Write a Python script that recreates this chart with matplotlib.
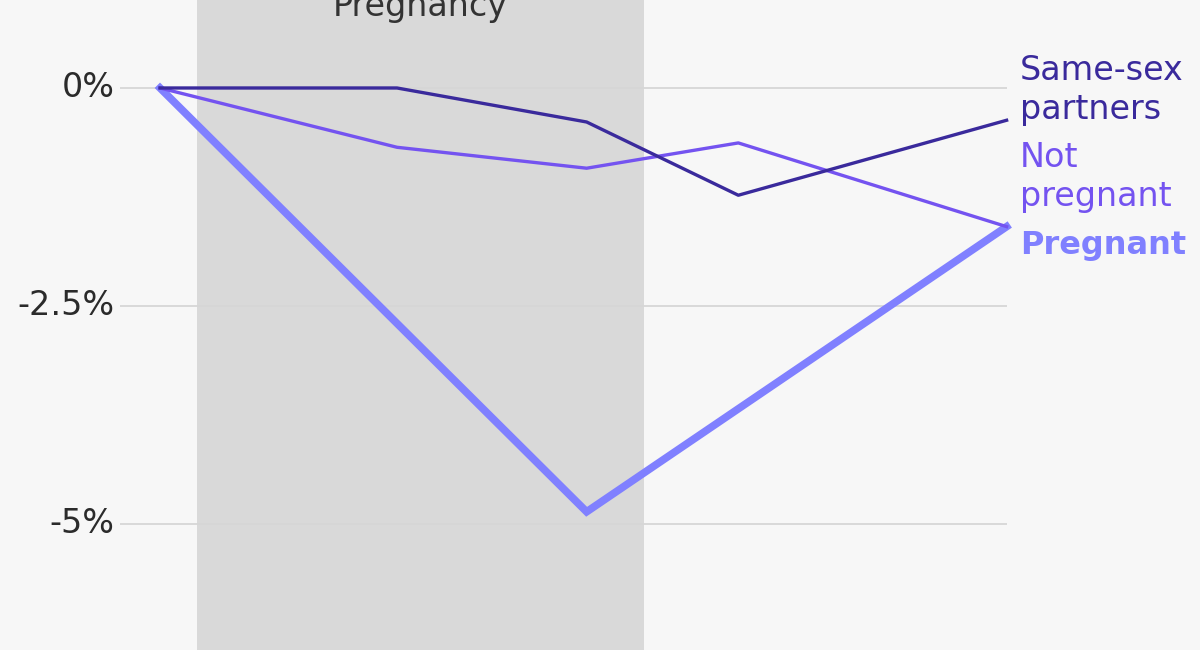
import matplotlib
matplotlib.use("Agg")
import matplotlib.pyplot as plt

# Data
x_points = [0, 2.5, 4.5, 6.1, 8.93]
same_sex = [0.0, 0.0, -0.39, -1.23, -0.37]
not_pregnant = [0.0, -0.68, -0.92, -0.63, -1.59]
pregnant_x = [0, 4.5, 8.93]
pregnant = [0.0, -4.86, -1.59]
y_ticks = [0, -2.5, -5]
y_tick_labels = ["0%", "-2.5%", "-5%"]
pregnancy_span = (0.39, 5.1)
series_labels = ["Same-sex\npartners", "Not\npregnant", "Pregnant"]

c_same = "#3a2a9c"
c_not = "#7453f0"
c_preg = "#8080ff"

plt.rcParams['font.family'] = ['DejaVu Sans']

fig = plt.figure(figsize=(12, 6.5), dpi=100)
fig.patch.set_facecolor("#f7f7f7")
ax = fig.add_axes([0, 0, 1, 1])
ax.set_facecolor("#f7f7f7")
ax.set_xlim(-1.688, 10.97)
ax.set_ylim(-6.445, 1.009)
ax.axis("off")

ax.axvspan(pregnancy_span[0], pregnancy_span[1], color="#d9d9d9", zorder=0, lw=0)
ax.text((pregnancy_span[0] + pregnancy_span[1]) / 2, 0.93, "Pregnancy",
        ha="center", va="center", fontsize=24, color="#333333", zorder=1)

for yt, lab in zip(y_ticks, y_tick_labels):
    ax.hlines(yt, -0.42, 8.93, color="#d6d6d6", lw=1.3, zorder=1)
    ax.text(-0.48, yt, lab, ha="right", va="center", fontsize=24, color="#2b2b2b")

ax.plot(pregnant_x, pregnant, color=c_preg, lw=5.5, solid_joinstyle="miter", zorder=3)
ax.plot(x_points, not_pregnant, color=c_not, lw=2.4, zorder=4)
ax.plot(x_points, same_sex, color=c_same, lw=2.4, zorder=5)

lx = 9.07
ax.text(lx, -0.02, series_labels[0], ha="left", va="center", fontsize=24,
        color=c_same, linespacing=1.22)
ax.text(lx, -1.02, series_labels[1], ha="left", va="center", fontsize=24,
        color=c_not, linespacing=1.22)
ax.text(lx, -1.81, series_labels[2], ha="left", va="center", fontsize=23,
        color=c_preg, fontweight="bold")

fig.savefig("out.png", dpi=100, facecolor=fig.get_facecolor())
